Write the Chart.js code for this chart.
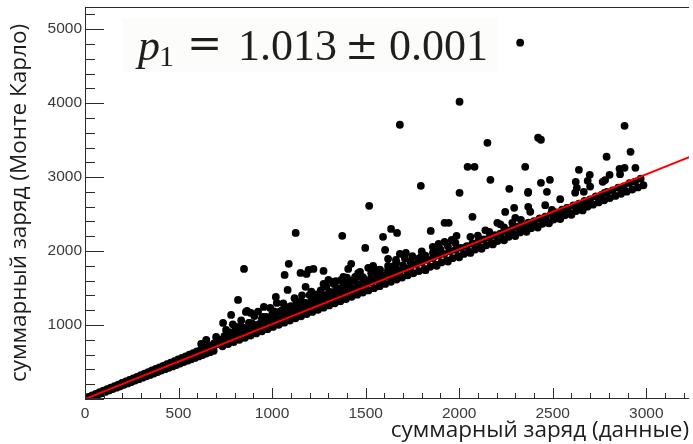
<!DOCTYPE html>
<html><head><meta charset="utf-8">
<script src="https://cdn.jsdelivr.net/npm/chart.js@4.4.0/dist/chart.umd.min.js"></script>
<style>html,body{margin:0;padding:0;background:#fff;}#wrap{width:693px;height:444px;position:relative;}</style>
</head><body><div id="wrap"><canvas id="c"></canvas></div>
<script>
// ---- axis / text values ----
const xAxisTitle = 'суммарный заряд (данные)';
const yAxisTitle = 'суммарный заряд (Монте Карло)';
const xMin = 0, xMax = 3229, yMin = 0, yMax = 5300;
const xTickValues = [0, 500, 1000, 1500, 2000, 2500, 3000];
const yTickValues = [0, 1000, 2000, 3000, 4000, 5000];
const xMinorStep = 100, yMinorStep = 200;
const fitSlope = 1.013, fitError = 0.001;

// ---- data points [данные, Монте Карло] ----
const lowBandAbove = [[0,10],[18,30],[38,50],[58,70],[78,92],[98,112],[118,133],[138,153],[158,175],[178,195],[198,217],[218,238],[238,258],[258,280],[278,300],[298,322],[318,342],[338,364],[358,385],[378,406],[398,428],[418,448],[438,470],[458,491],[478,512],[498,534],[518,556],[538,576],[558,598],[578,620],[598,642],[618,662],[638,684],[658,706],[678,726],[698,748]];
const lowBandBelow = [[8,0],[28,19],[48,38],[68,57],[88,76],[108,96],[128,115],[148,134],[168,153],[188,172],[208,191],[228,211],[248,230],[268,249],[288,268],[308,288],[328,307],[348,326],[368,345],[388,364],[408,384],[428,403],[448,422],[468,441],[488,460],[508,480],[528,499],[548,518],[568,537],[588,556],[608,576],[628,595],[648,614],[668,633],[688,652]];
const bandRowA = [[720,740],[750,772],[780,801],[810,836],[840,864],[870,898],[900,925],[930,961],[960,988],[990,1022],[1020,1049],[1050,1083],[1080,1110],[1110,1146],[1140,1172],[1170,1207],[1200,1234],[1230,1268],[1260,1294],[1290,1330],[1320,1356],[1350,1391],[1380,1418],[1410,1454],[1440,1480],[1470,1514],[1500,1541],[1530,1576],[1560,1602],[1590,1637],[1620,1662],[1650,1698],[1680,1724],[1710,1758],[1740,1784],[1770,1818],[1800,1846],[1830,1880],[1860,1906],[1890,1940],[1920,1962],[1950,1996],[1980,2018],[2010,2044],[2040,2068],[2070,2100],[2100,2124],[2130,2158],[2160,2180],[2190,2214],[2220,2236],[2250,2270],[2280,2292],[2310,2326],[2340,2350],[2370,2384],[2400,2406],[2430,2442],[2460,2464],[2490,2500],[2520,2524],[2550,2560],[2580,2582],[2610,2618],[2640,2640],[2670,2680],[2700,2700],[2730,2738],[2760,2758],[2790,2800],[2820,2820],[2850,2858],[2880,2876],[2910,2920],[2940,2938],[2970,2978]];
const bandRowB = [[735,712],[765,742],[795,770],[825,800],[855,828],[885,858],[915,886],[945,916],[975,944],[1005,975],[1035,1003],[1065,1032],[1095,1061],[1125,1091],[1155,1119],[1185,1149],[1215,1177],[1245,1207],[1275,1235],[1305,1265],[1335,1293],[1365,1323],[1395,1351],[1425,1381],[1455,1410],[1485,1440],[1515,1468],[1545,1498],[1575,1526],[1605,1556],[1635,1584],[1665,1614],[1695,1642],[1725,1672],[1755,1700],[1785,1730],[1815,1758],[1845,1788],[1875,1816],[1905,1846],[1935,1874],[1965,1904],[1995,1932],[2025,1962],[2055,1990],[2085,2020],[2115,2049],[2145,2078],[2175,2106],[2205,2136],[2235,2164],[2265,2194],[2295,2223],[2325,2252],[2355,2281],[2385,2310],[2415,2338],[2445,2368],[2475,2396],[2505,2426],[2535,2454],[2565,2484],[2595,2512],[2625,2542],[2655,2570],[2685,2600],[2715,2628],[2745,2658],[2775,2686],[2805,2716],[2835,2745],[2865,2775],[2895,2803],[2925,2832],[2955,2861],[2985,2890]];
const bandRowG = [[1820,1742],[1880,1800],[1940,1858],[2000,1915],[2060,1975],[2120,2030],[2180,2090],[2240,2146],[2300,2204],[2360,2260],[2420,2318],[2480,2376],[2540,2434],[2600,2490],[2660,2550]];
const fanRowH = [[655,681],[690,718],[725,754],[760,791],[795,826],[830,864],[865,899],[900,937],[935,972],[970,1010],[1005,1044],[1040,1082],[1075,1118],[1110,1155],[1145,1190],[1180,1228],[1215,1263],[1250,1301],[1285,1336],[1320,1374],[1355,1408],[1390,1446],[1425,1481],[1460,1519],[1495,1554],[1530,1592],[1565,1626],[1600,1665],[1635,1699],[1670,1738],[1705,1772]];
const fanRowC = [[620,652],[660,703],[700,746],[740,790],[780,829],[820,874],[860,916],[900,958],[940,1002],[980,1043],[1020,1087],[1060,1128],[1100,1172],[1140,1213],[1180,1258],[1220,1298],[1260,1342],[1300,1383],[1340,1428],[1380,1468],[1420,1513],[1460,1554],[1500,1598],[1540,1638],[1580,1684],[1620,1723],[1660,1768],[1700,1808],[1740,1854],[1780,1894],[1820,1938],[1860,1978],[1900,2024],[1940,2064],[1980,2110],[2060,2192],[2140,2280],[2220,2362],[2300,2450],[2380,2532],[2460,2620],[2540,2702],[2620,2790],[2700,2872],[2780,2960],[2860,3040]];
const fanRowI = [[690,752],[730,796],[770,838],[810,884],[850,926],[890,972],[930,1013],[970,1058],[1010,1100],[1050,1146],[1090,1187],[1130,1233],[1170,1274],[1210,1320],[1250,1361],[1290,1408],[1330,1449],[1370,1494],[1410,1536],[1490,1623],[1570,1710],[1650,1797]];
const fanRowD = [[720,800],[765,850],[810,902],[855,948],[900,1000],[945,1050],[990,1098],[1035,1150],[1080,1198],[1125,1250],[1170,1298],[1215,1350],[1260,1398],[1305,1450],[1350,1498],[1395,1548],[1440,1598],[1485,1648],[1530,1700],[1575,1748],[1620,1798],[1665,1848],[1710,1898],[1800,1996],[1890,2098]];
const fanRowJ = [[745,850],[795,906],[845,965],[895,1020],[945,1078],[1000,1142],[1050,1196],[1100,1256],[1150,1310],[1240,1414],[1380,1574]];
const fanRowE = [[770,905],[830,975],[880,1030],[950,1110],[1010,1185],[1070,1250],[1130,1322],[1200,1405],[1260,1470],[1330,1555],[1400,1640],[1470,1720],[1540,1800],[1620,1895]];
const fanScatter = [[790,1010],[835,1062],[905,1122],[925,1182],[990,1232],[1060,1292],[1120,1362],[1160,1402],[1210,1452],[1290,1522],[1340,1592],[1420,1600],[1460,1700],[1560,1660],[1750,1930],[1880,2000],[1960,2150],[2100,2210],[2240,2320],[2330,2420]];
const fanEdge = [[648,798],[701,839],[754,934],[807,974],[876,1028],[967,1110],[1036,1177],[1105,1231],[1179,1299],[1232,1340]];
const outliers = [[2326,4817],[2002,4019],[1683,3708],[2151,3464],[2422,3532],[2437,3505],[2884,3694],[2916,3342],[2045,3139],[2082,3139],[2353,3139],[1795,2882],[2167,2963],[2002,2787],[2268,2842],[2368,2788],[1519,2612],[2640,3099],[2788,3275],[2857,3112],[2884,3126],[2942,3126],[2698,3031],[2687,2950],[2804,3031],[2437,2923],[2485,2963],[2469,2801],[2369,2801],[2623,2936],[2629,2855],[2666,2801],[2767,2936],[2369,2598],[2496,2557],[2777,2788],[2762,2720],[2682,2625],[2645,2598],[2629,2557],[2576,2585],[2538,2517],[2512,2449],[2246,2530],[2294,2585],[2071,2463],[1922,2382],[1944,2382],[1848,2273],[1986,2206],[1922,2124],[1859,2057],[2161,2260],[2204,2382],[2284,2382],[2347,2314],[2379,2355],[1593,2192],[1636,2300],[1668,2246],[1604,2016],[1683,1962],[1715,1976],[1795,1922],[1375,2206],[1498,2043],[1423,1827],[1407,1759],[1514,1773],[1551,1746],[1577,1746],[1620,1746],[1662,1881],[1275,1732],[1195,1746],[1221,1759],[1126,2246],[850,1759],[1089,1827],[1067,1678],[1152,1705],[1184,1691],[818,1340],[1083,1475],[1179,1516],[781,1137],[738,1028],[1020,1380],[1025,1299],[956,1245],[860,1177],[887,1164],[621,744],[866,1191],[1301,1610],[1328,1583],[1370,1610],[1444,1651],[1476,1651],[1529,1637],[1583,1610],[1636,1678],[1683,1678],[1726,1719],[1381,1651],[1275,1556]];

const allPoints = [].concat(lowBandAbove, lowBandBelow, bandRowA, bandRowB, bandRowG, fanRowH, fanRowC, fanRowI, fanRowD, fanRowJ, fanRowE, fanScatter, fanEdge, outliers).map(([x, y]) => ({x, y}));
const fitLine = [{x: xMin, y: fitSlope * xMin}, {x: xMax, y: fitSlope * xMax}];

const frameColor = '#2b2b2b';
const tickFont = {family: '"Liberation Sans", Arial, sans-serif', size: 15.5};
const titleFont = {family: '"Open Sans", "Noto Sans", sans-serif', size: 22.5};

const framePlugin = {
  id: 'rootFrame',
  afterDraw(chart) {
    const {ctx, chartArea: a, scales: {x, y}} = chart;
    ctx.save();
    ctx.strokeStyle = frameColor;
    ctx.lineWidth = 1;
    ctx.beginPath();
    ctx.moveTo(a.left, a.top + 0.5); ctx.lineTo(a.right, a.top + 0.5);
    ctx.moveTo(a.left + 0.5, a.top); ctx.lineTo(a.left + 0.5, a.bottom);
    ctx.moveTo(a.left, a.bottom - 0.5); ctx.lineTo(a.right, a.bottom - 0.5);
    for (let v = xMin; v <= x.max; v += xMinorStep) {
      const px = Math.round(x.getPixelForValue(v)) + 0.5;
      const len = xTickValues.includes(v) ? 11 : 6;
      ctx.moveTo(px, a.bottom); ctx.lineTo(px, a.bottom - len);
    }
    for (let v = yMin; v <= y.max; v += yMinorStep) {
      const py = Math.round(y.getPixelForValue(v)) + 0.5;
      const len = yTickValues.includes(v) ? 19 : 10;
      ctx.moveTo(a.left, py); ctx.lineTo(a.left + len, py);
    }
    ctx.stroke();

    // fit result label
    ctx.fillStyle = '#fcfcfa';
    ctx.fillRect(123, 18, 375, 54);
    ctx.fillStyle = '#1e1e1e';
    ctx.textBaseline = 'alphabetic';
    ctx.textAlign = 'left';
    const base = 60;
    ctx.font = 'italic 44px "Liberation Serif", "DejaVu Serif", serif';
    ctx.fillText('p', 138, base);
    ctx.font = '30px "Liberation Serif", "DejaVu Serif", serif';
    ctx.fillText('1', 159, base + 6);
    ctx.font = '42px "DejaVu Serif", serif';
    ctx.fillText('=', 187, base - 2);
    ctx.font = '44px "Liberation Serif", serif';
    ctx.fillText(fitSlope.toFixed(3), 238, base);
    ctx.font = '40px "DejaVu Serif", serif';
    ctx.fillText('±', 345, base - 1);
    ctx.font = '44px "Liberation Serif", serif';
    ctx.fillText(fitError.toFixed(3), 389, base);
    ctx.restore();
  }
};

new Chart(document.getElementById('c'), {
  type: 'scatter',
  data: {
    datasets: [
      {label: 'fit', data: fitLine, showLine: true, borderColor: '#ff0000', borderWidth: 2, pointRadius: 0, order: 0},
      {label: 'events', data: allPoints, pointRadius: 3.9, pointHoverRadius: 3.9, backgroundColor: '#000', borderWidth: 0, order: 1}
    ]
  },
  options: {
    responsive: true,
    maintainAspectRatio: false,
    animation: false,
    events: [],
    layout: {padding: {top: 7, left: 0, right: 0, bottom: 0}},
    plugins: {legend: {display: false}, tooltip: {enabled: false}, title: {display: false}},
    scales: {
      x: {
        type: 'linear', min: xMin, max: xMax,
        border: {display: false},
        grid: {display: false, drawTicks: false},
        ticks: {padding: 5, color: '#3a3a3a', font: tickFont, maxRotation: 0, autoSkip: false,
          callback: v => String(v)},
        afterBuildTicks(s) { s.ticks = xTickValues.map(v => ({value: v})); },
        title: {display: true, text: xAxisTitle, align: 'end', color: '#1c1c1c', font: titleFont, padding: {top: 0, bottom: 0}},
        afterFit(s) { s.height = 45; s.paddingLeft = 0; s.paddingRight = 0; }
      },
      y: {
        type: 'linear', min: yMin, max: yMax,
        border: {display: false},
        grid: {display: false, drawTicks: false},
        ticks: {padding: 3, color: '#3a3a3a', font: tickFont, autoSkip: false,
          callback: v => (v === 0 ? '' : String(v))},
        afterBuildTicks(s) { s.ticks = yTickValues.map(v => ({value: v})); },
        title: {display: true, text: yAxisTitle, color: '#1c1c1c', font: titleFont, padding: {top: 6, bottom: 0}},
        afterFit(s) { s.width = 85; s.paddingTop = 0; s.paddingBottom = 0; }
      }
    }
  },
  plugins: [framePlugin]
});
</script></body></html>
